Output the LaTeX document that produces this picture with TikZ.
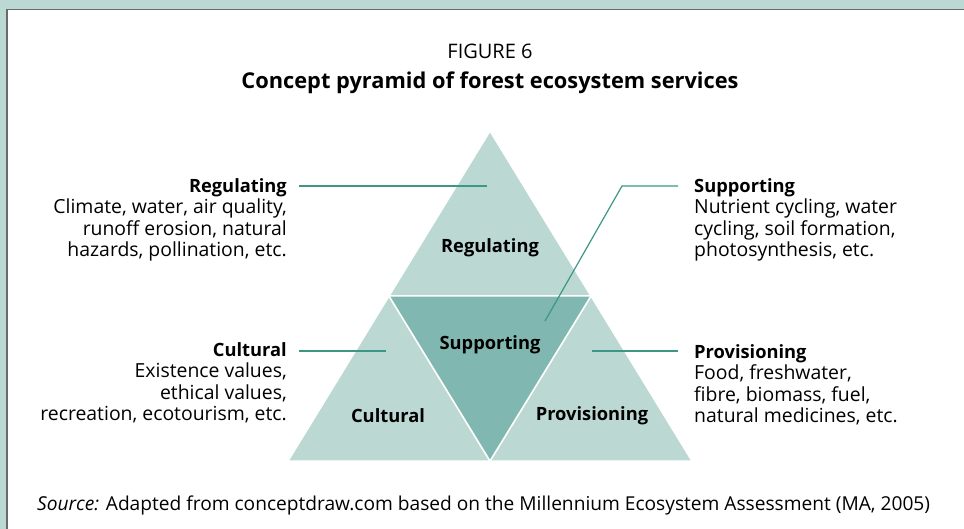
\documentclass[tikz,border=0pt]{standalone}
\usepackage{fontspec}
\setmainfont{Open Sans}
\usetikzlibrary{calc,positioning}
\definecolor{tealband}{HTML}{BBD8D2}
\definecolor{tealdark}{HTML}{80B7B0}
\definecolor{tealline}{HTML}{3D9686}
\definecolor{framegray}{HTML}{6A6A6A}
\newcommand{\head}[1]{{\fontsize{18.3}{21.5}\selectfont\bfseries #1}}

\begin{document}
\begin{tikzpicture}[x=1pt, y=-1pt,
    part/.style={fill=tealband, draw=white, line width=1.5pt, line join=round},
    leader/.style={draw=tealline, line width=1.2pt},
    label/.style={inner sep=0pt, font=\fontsize{18.3}{21.5}\selectfont\bfseries},
    info/.style={inner sep=0pt, font=\fontsize{19.4}{21.5}\selectfont}
]
    \useasboundingbox (0,0) rectangle (964,529);
    % Frame
    \fill[tealband] (0,0) rectangle (964,9);
    \fill[tealband] (0,0) rectangle (6,529);
    \draw[framegray, line width=1.5pt] (6.75,529) -- (6.75,9.75) -- (964,9.75);

    % Title
    \node[info, font=\fontsize{20}{24}\selectfont, anchor=base] (Figno) at (490,59) {FIGURE 6};
    \node[info, font=\fontsize{21.8}{24}\selectfont\bfseries, anchor=base] (Title) at (490,89)
    {Concept pyramid of forest ecosystem services};

    % Pyramid
    \coordinate (Apex) at (490,131);
    \coordinate (BaseL) at (288,461);
    \coordinate (BaseR) at (692,461);
    \coordinate (MidL) at ($(Apex)!0.5!(BaseL)$);
    \coordinate (MidR) at ($(Apex)!0.5!(BaseR)$);
    \coordinate (MidB) at ($(BaseL)!0.5!(BaseR)$);
    \draw[part] (Apex) -- (MidL) -- (MidR) -- cycle;
    \draw[part] (MidL) -- (BaseL) -- (MidB) -- cycle;
    \draw[part] (MidR) -- (MidB) -- (BaseR) -- cycle;
    \draw[part, fill=tealdark] (MidL) -- (MidR) -- (MidB) -- cycle;

    \node[label] (Regulating) at (490,248) {Regulating};
    \node[label] (Supporting) at (490,345) {Supporting};
    \node[label] (Cultural) at (388,416) {Cultural};
    \node[label] (Provisioning) at (592,416) {Provisioning};

    % Descriptions
    \node[info, anchor=north east, align=right] (RegText) at (287,178)
    {\head{Regulating}\\Climate, water, air quality,\\runoff erosion, natural\\hazards, pollination, etc.};
    \node[info, anchor=north east, align=right] (CulText) at (287,342)
    {\head{Cultural}\\Existence values,\\ethical values,\\recreation, ecotourism, etc.};
    \node[info, anchor=north west, align=left] (SupText) at (694,178)
    {\head{Supporting}\\Nutrient cycling, water\\cycling, soil formation,\\photosynthesis, etc.};
    \node[info, anchor=north west, align=left] (ProText) at (694,344)
    {\head{Provisioning}\\Food, freshwater,\\fibre, biomass, fuel,\\natural medicines, etc.};

    % Leaders
    \coordinate (RegPt) at (487,186);
    \coordinate (CulPt) at (386,351);
    \coordinate (ProPt) at (592,351);
    \coordinate (SupKnee) at (622,186);
    \coordinate (SupPt) at (545,321);
    \draw[leader] ([xshift=12]RegPt -| RegText.east) -- (RegPt);
    \draw[leader] ([xshift=12]CulPt -| CulText.east) -- (CulPt);
    \draw[leader] ([xshift=-16]ProPt -| ProText.west) -- (ProPt);
    \draw[leader] ([xshift=-16]SupKnee -| SupText.west) -- (SupKnee) -- (SupPt);

    % Source
    \node[info, font=\fontsize{19.15}{21.5}\selectfont, anchor=base west] (Source) at (37,510)
    {\textit{Source:} Adapted from conceptdraw.com based on the Millennium Ecosystem Assessment (MA, 2005)};

\end{tikzpicture}
\end{document}
